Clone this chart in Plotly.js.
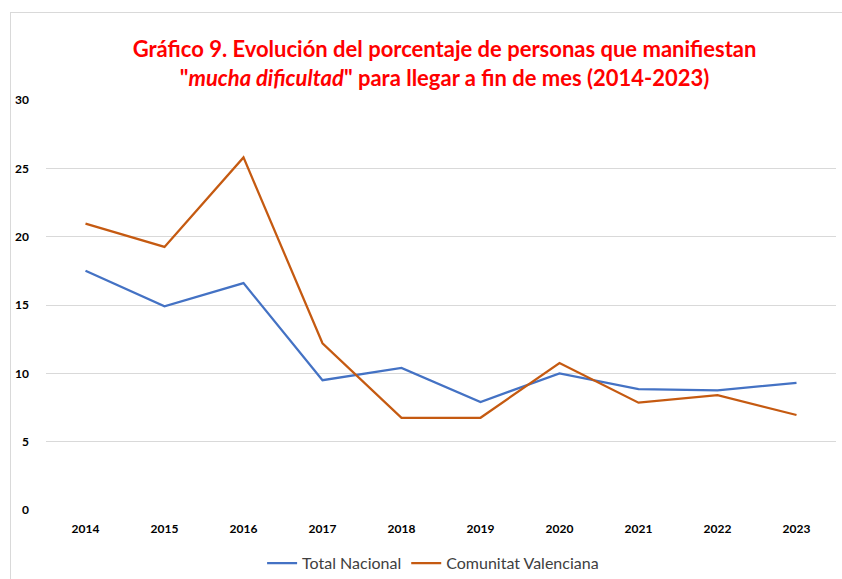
<!DOCTYPE html>
<html>
<head>
<meta charset="utf-8">
<script src="https://cdn.plot.ly/plotly-3.0.1.min.js"></script>
<style>
html,body{margin:0;padding:0;background:#fff;}
#frame{position:absolute;left:10px;top:12px;width:840px;height:580px;border:1px solid #d9d9d9;box-sizing:border-box;pointer-events:none;}
#chart{position:absolute;left:0;top:0;width:842px;height:579px;}
</style>
</head>
<body>
<div id="chart"></div>
<div id="frame"></div>
<script>
const years = ["2014","2015","2016","2017","2018","2019","2020","2021","2022","2023"];
const totalNacional = [17.5, 14.9, 16.6, 9.5, 10.4, 7.9, 10.0, 8.85, 8.75, 9.3];
const comunitatValenciana = [20.95, 19.25, 25.8, 12.2, 6.75, 6.75, 10.75, 7.85, 8.4, 6.95];
const yTicks = [0, 5, 10, 15, 20, 25, 30];

const fam = "Lato, 'Open Sans', Arial, sans-serif";
const tickFont = {family: fam, size: 12, color: "#000", weight: 700};

const traces = [
  {x: years, y: totalNacional, name: "Total Nacional", type: "scatter", mode: "lines",
   line: {color: "#4472C4", width: 2.25}},
  {x: years, y: comunitatValenciana, name: "Comunitat Valenciana", type: "scatter", mode: "lines",
   line: {color: "#C55A11", width: 2.25}}
];

const layout = {
  width: 842, height: 579,
  margin: {l: 46, r: 6, t: 100, b: 69, autoexpand: false},
  paper_bgcolor: "rgba(0,0,0,0)", plot_bgcolor: "#fff",
  title: {
    text: "Gráfico 9. Evolución del porcentaje de personas que manifiestan<br>\"<i>mucha dificultad</i>\" para llegar a fin de mes (2014-2023)",
    font: {family: fam, size: 22, color: "#FF0000", weight: 700},
    x: 0.528, xanchor: "center", y: 1 - 57/579, yanchor: "middle", yref: "container"
  },
  xaxis: {
    type: "category", range: [-0.5, 9.5], showgrid: false, zeroline: false, showline: false,
    ticks: "", tickfont: tickFont, ticklabelstandoff: 10
  },
  yaxis: {
    range: [0, 30], tickvals: yTicks, showgrid: true, gridcolor: "#d9d9d9", gridwidth: 1,
    zeroline: false, showline: false, ticks: "", tickfont: tickFont, ticklabelstandoff: 16
  },
  showlegend: true,
  legend: {orientation: "h", x: 0.49, xanchor: "center", y: -0.13, yanchor: "middle",
    font: {family: fam, size: 16, color: "#404040"},
    itemwidth: 30, tracegroupgap: 0}
};

Plotly.newPlot("chart", traces, layout, {displayModeBar: false, staticPlot: true});
</script>
</body>
</html>
